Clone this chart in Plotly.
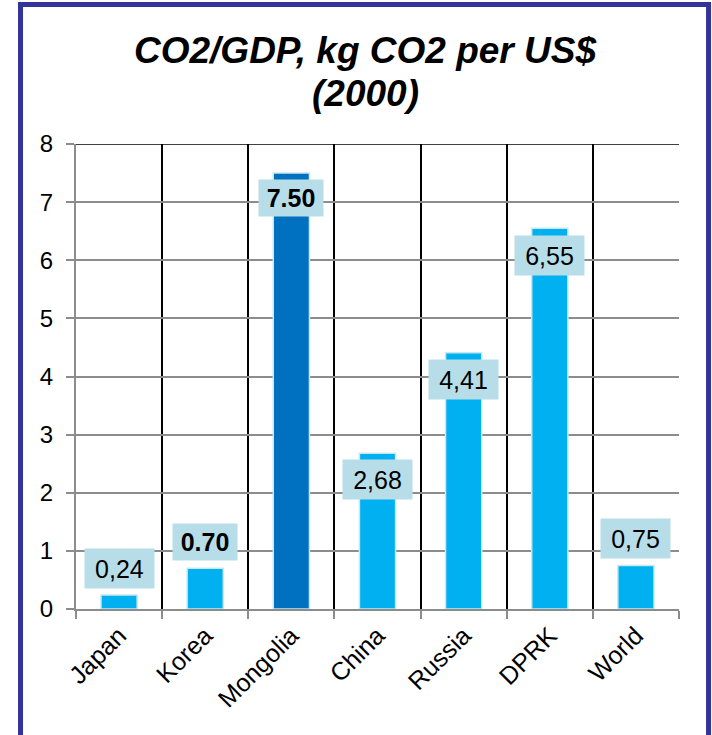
import plotly.graph_objects as go

# CO2 intensity of GDP, kg CO2 per US$ (2000)
countries = ["Japan", "Korea", "Mongolia", "China", "Russia", "DPRK", "World"]
intensity = [0.24, 0.70, 7.50, 2.68, 4.41, 6.55, 0.75]
value_labels = ["0,24", "<b>0.70</b>", "<b>7.50</b>", "2,68", "4,41", "6,55", "0,75"]
bar_colors = ["#00B0F0", "#00B0F0", "#0070C0", "#00B0F0", "#00B0F0", "#00B0F0", "#00B0F0"]
# pixel offset of each value box relative to the top of its bar (+ above, - below)
label_offsets = [27, 26, -25, -26, -27, -27, 27]
bold_label = [False, True, True, False, False, False, False]

FONT = "Liberation Sans, Arial, sans-serif"

fig = go.Figure(
    go.Bar(
        x=countries,
        y=intensity,
        width=0.42,
        marker=dict(color=bar_colors, line=dict(color="#C8E8F0", width=1.5)),
        hoverinfo="x+y",
    )
)

annotations = []
for name, val, txt, off, bold in zip(countries, intensity, value_labels, label_offsets, bold_label):
    annotations.append(
        dict(
            x=name, y=val, xref="x", yref="y",
            text=txt, showarrow=False,
            yshift=off, yanchor="middle", xanchor="center",
            font=dict(family=FONT, size=25, color="#000000"),
            bgcolor="#B7DEE8",
            width=54 if bold else 59,
            height=26 if bold else 29,
            borderpad=5,
        )
    )

# two-line chart heading
annotations.append(dict(
    x=0.48, y=1.0, xref="paper", yref="paper", yanchor="middle",
    yshift=(609 - 50) - 465, showarrow=False,
    text="<b><i>CO2/GDP, kg CO2 per US$</i></b>",
    font=dict(family=FONT, size=37, color="#000000"),
))
annotations.append(dict(
    x=0.48, y=1.0, xref="paper", yref="paper", yanchor="middle",
    yshift=(609 - 93) - 465, showarrow=False,
    text="<b><i>(2000)</i></b>",
    font=dict(family=FONT, size=37, color="#000000"),
))

shapes = [
    # black frame line along the top of the value range
    dict(type="line", xref="paper", yref="y", x0=0, x1=1, y0=8, y1=8,
         line=dict(color="#000000", width=1.5)),
    # outer frame around the whole panel
    dict(type="rect", xref="paper", yref="paper",
         x0=-0.092, x1=1.049, y0=-0.45, y1=1.300,
         line=dict(color="#333399", width=5), layer="above"),
]

fig.update_layout(
    width=712, height=735,
    margin=dict(l=76, r=33, t=144, b=126),
    paper_bgcolor="#FFFFFF", plot_bgcolor="#FFFFFF",
    showlegend=False,
    annotations=annotations,
    shapes=shapes,
    font=dict(family=FONT, color="#000000"),
)

fig.update_xaxes(
    type="category",
    tickson="boundaries",
    showgrid=True, gridcolor="#000000", gridwidth=1.5,
    showline=True, linecolor="#8C8C8C", linewidth=2,
    ticks="outside", ticklen=8, tickcolor="#8C8C8C", tickwidth=2,
    tickangle=-45,
    tickfont=dict(family=FONT, size=25, color="#000000"),
)

fig.update_yaxes(
    range=[0, 8], dtick=1,
    showgrid=True, gridcolor="#8C8C8C", gridwidth=2,
    zeroline=False,
    showline=True, linecolor="#8C8C8C", linewidth=2,
    ticks="outside", ticklen=8, tickcolor="#8C8C8C", tickwidth=2,
    tickfont=dict(family=FONT, size=24, color="#000000"),
    ticklabelstandoff=8,
)

fig.write_html("out.html")
